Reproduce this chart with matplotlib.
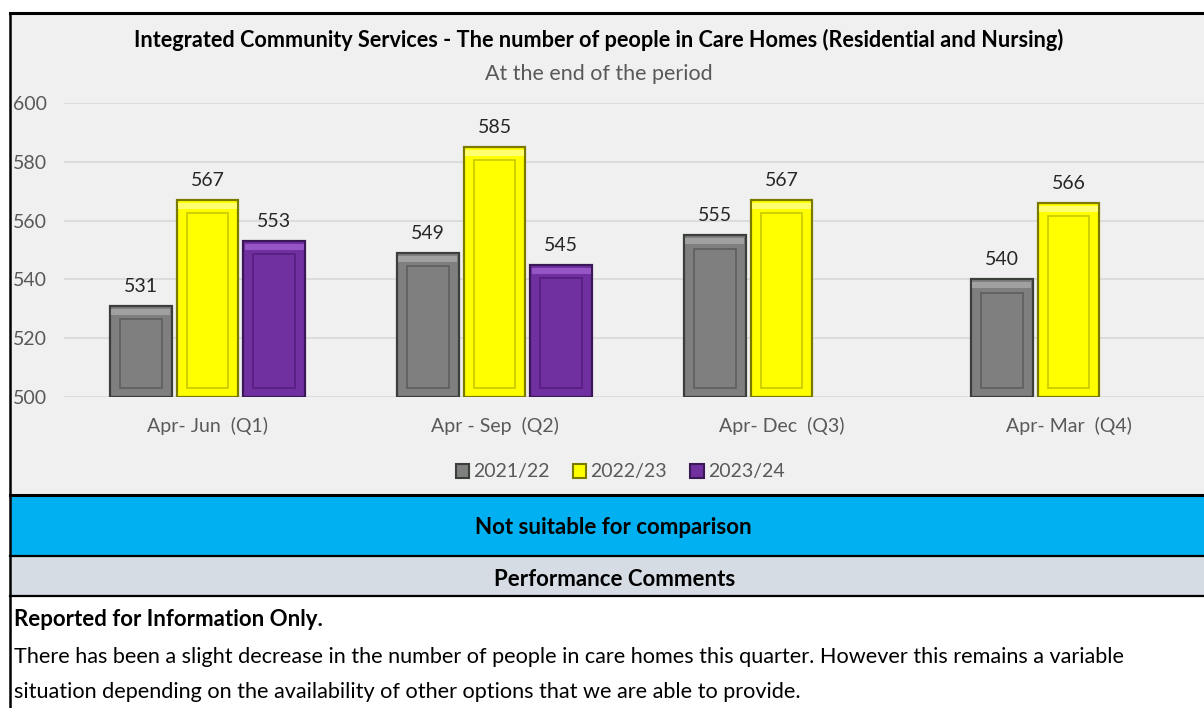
import numpy as np
import matplotlib.pyplot as plt
from matplotlib.patches import Rectangle, Patch

plt.rcParams['font.family'] = ['Lato', 'DejaVu Sans']

quarters = ['Apr- Jun  (Q1)', 'Apr - Sep  (Q2)', 'Apr- Dec  (Q3)', 'Apr- Mar  (Q4)']
years = ['2021/22', '2022/23', '2023/24']
v2122 = [531, 549, 555, 540]
v2223 = [567, 585, 567, 566]
v2324 = [553, 545, np.nan, np.nan]
series = [v2122, v2223, v2324]

face = ['#7f7f7f', '#ffff00', '#7030a0']
edge = ['#3a3f3a', '#7a7a00', '#3a1858']
inner = ['#5e5e5e', '#c8c800', '#551f80']
light = ['#a0a0a0', '#ffff70', '#9555c4']

W, H = 1204, 708
fig = plt.figure(figsize=(W / 100, H / 100), dpi=100)

# page background / panels, drawn in pixel coords
bg = fig.add_axes([0, 0, 1, 1])
bg.set_xlim(0, W)
bg.set_ylim(H, 0)
bg.axis('off')
bg.add_patch(Rectangle((10, 13), W, 481, facecolor='#f0f0f0', edgecolor='none'))
bg.add_patch(Rectangle((10, 496), W, 59, facecolor='#00b0f0', edgecolor='none'))
bg.add_patch(Rectangle((10, 557), W, 38, facecolor='#d6dce4', edgecolor='none'))
for y in [13, 495, 556, 596]:
    bg.plot([10, W], [y, y], color='black', lw=2.2 if y in (13, 495) else 1.6)
bg.plot([10, 10], [13, H], color='black', lw=1.8)

bg.text(599, 40, 'Integrated Community Services - The number of people in Care Homes (Residential and Nursing)',
        ha='center', va='center', fontsize=15.6, fontweight='bold', color='black')
bg.text(599, 74, 'At the end of the period', ha='center', va='center', fontsize=15.5, color='#595959')
bg.text(613, 527, 'Not suitable for comparison', ha='center', va='center', fontsize=16, fontweight='bold')
bg.text(615, 580, 'Performance Comments', ha='center', va='center', fontsize=16, fontweight='bold')
bg.text(14, 619, 'Reported for Information Only.', ha='left', va='center', fontsize=16, fontweight='bold')
bg.text(14, 657, 'There has been a slight decrease in the number of people in care homes this quarter. However this remains a variable',
        ha='left', va='center', fontsize=15.6)
bg.text(14, 692, 'situation depending on the availability of other options that we are able to provide.',
        ha='left', va='center', fontsize=15.6)

# chart
ax = fig.add_axes([64 / W, (H - 397) / H, 1148 / W, 294 / H])
ax.patch.set_alpha(0)
x = np.arange(len(quarters))
bw = 0.216
off = 0.233
base = 500
for i, vals in enumerate(series):
    vals = np.array(vals, dtype=float)
    xs = x + (i - 1) * off
    h = vals - base
    ax.bar(xs, h, bw, bottom=base, color=face[i], edgecolor=edge[i], linewidth=1.6, zorder=3)
    ax.bar(xs, np.full_like(h, 2.0), bw - 0.01, bottom=vals - 3.0, color=light[i], edgecolor='none', zorder=3)
    ax.bar(xs, h - 7.5, bw - 0.07, bottom=base + 3, fill=False, edgecolor=inner[i], linewidth=1.2, zorder=4)
    for xx, v in zip(xs, vals):
        if not np.isnan(v):
            ax.annotate(f'{v:.0f}', (xx, v), xytext=(0, 8), textcoords='offset points',
                        ha='center', va='bottom', fontsize=14, color='#262626')

ax.set_ylim(500, 600)
ax.set_xlim(-0.5, 3.5)
ax.set_yticks(range(500, 601, 20))
ax.set_xticks(x, quarters)
ax.grid(axis='y', color='#d9d9d9', lw=1.2, zorder=0)
for s in ax.spines.values():
    s.set_visible(False)
ax.tick_params(length=0, colors='#595959', labelsize=14)
ax.tick_params(axis='y', pad=12)
ax.tick_params(axis='x', pad=14)

handles = [Patch(facecolor=face[i], edgecolor=edge[i], lw=1.5) for i in range(3)]
fig.legend(handles, years, loc='center', bbox_to_anchor=(620 / W, (H - 472) / H), ncol=3,
           frameon=False, fontsize=14, handlelength=0.7, handleheight=0.7,
           handletextpad=0.2, columnspacing=1.2, labelcolor='#595959')

fig.savefig('out.png', dpi=100)
